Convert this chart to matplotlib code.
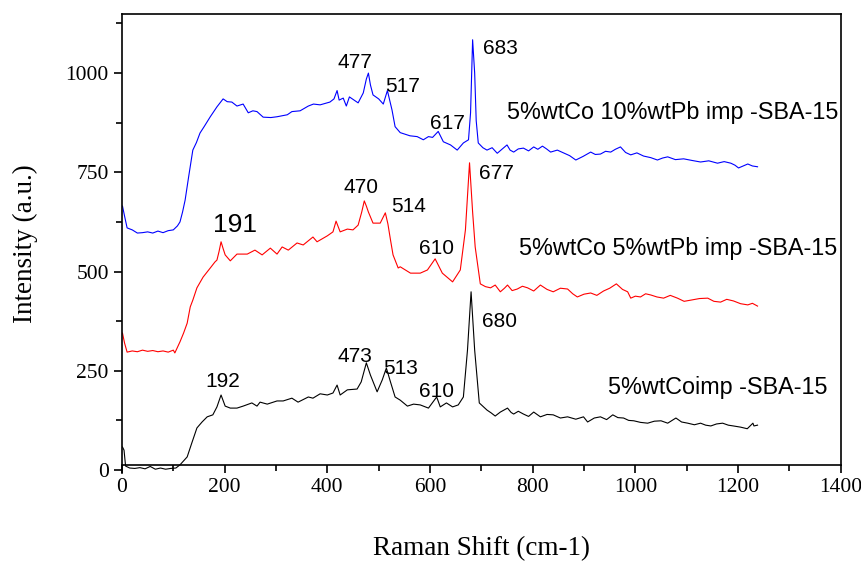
import matplotlib
matplotlib.use("Agg")
import matplotlib.pyplot as plt
from matplotlib.ticker import MultipleLocator

# Raman spectra, three impregnated SBA-15 samples (shift in cm-1, intensity a.u.)
shift_pb10 = [1, 5, 10, 20, 30, 40, 50, 60, 70, 80, 90, 100, 108, 113, 118, 123, 130, 138, 145,
              152, 160, 172, 185, 197, 205, 214, 224, 236, 246, 255, 263, 275, 290, 302, 322, 331,
              347, 363, 373, 386, 405, 413, 419, 423, 431, 437, 443, 460, 470, 476, 480, 484, 489,
              500, 509, 517, 526, 532, 542, 561, 575, 587, 597, 605, 616, 626, 640, 653, 665, 675,
              679, 683, 687, 690, 694, 703, 711, 721, 731, 740, 750, 756, 763, 772, 782, 792, 802,
              810, 819, 827, 835, 848, 860, 872, 884, 898, 913, 922, 932, 942, 952, 961, 971, 981,
              991, 1003, 1016, 1030, 1043, 1053, 1063, 1078, 1094, 1110, 1127, 1143, 1160, 1173,
              1186, 1194, 1201, 1210, 1219, 1228, 1238]
int_pb10 = [665, 640, 610, 605, 597, 598, 600, 597, 602, 598, 603, 605, 615, 625, 650, 680, 740,
            806, 825, 849, 865, 890, 915, 935, 928, 927, 917, 922, 900, 905, 903, 889, 888, 890,
            895, 903, 905, 917, 922, 920, 927, 935, 956, 932, 937, 917, 940, 925, 950, 985, 1000,
            970, 945, 935, 922, 956, 907, 865, 850, 842, 840, 832, 840, 838, 853, 827, 819, 806,
            824, 832, 900, 1084, 1000, 880, 824, 812, 806, 812, 798, 808, 819, 806, 801, 809, 811,
            804, 814, 808, 816, 809, 801, 806, 799, 792, 781, 790, 801, 795, 796, 803, 801, 808,
            814, 800, 794, 799, 791, 787, 781, 786, 789, 782, 784, 780, 776, 779, 773, 777, 773,
            768, 761, 766, 771, 766, 764]

shift_pb5 = [1, 5, 10, 20, 30, 40, 50, 60, 70, 80, 90, 100, 103, 113, 120, 127, 133, 138, 146,
             158, 172, 181, 185, 189, 193, 197, 201, 211, 224, 244, 259, 273, 289, 302, 312, 324,
             341, 353, 372, 380, 400, 411, 417, 425, 439, 450, 460, 467, 472, 476, 480, 489, 503,
             513, 518, 523, 528, 538, 542, 562, 581, 595, 610, 624, 644, 659, 669, 677, 683, 688,
             698, 708, 718, 727, 737, 745, 751, 760, 770, 780, 790, 802, 815, 828, 840, 854, 868,
             878, 887, 900, 913, 925, 938, 950, 963, 975, 985, 991, 1000, 1010, 1020, 1030, 1042,
             1055, 1068, 1082, 1095, 1108, 1125, 1141, 1153, 1166, 1178, 1191, 1205, 1219, 1228,
             1238]
int_pb5 = [345, 320, 297, 300, 298, 302, 299, 301, 298, 300, 297, 302, 295, 323, 345, 370, 411,
           428, 459, 486, 509, 524, 529, 550, 575, 558, 542, 527, 544, 544, 554, 542, 559, 544,
           562, 554, 572, 567, 587, 575, 590, 600, 627, 600, 607, 605, 617, 650, 678, 665, 650,
           622, 622, 648, 620, 580, 542, 509, 512, 496, 496, 504, 532, 496, 474, 504, 605, 774,
           650, 562, 469, 462, 459, 466, 449, 458, 466, 452, 456, 463, 459, 451, 466, 455, 449,
           458, 456, 444, 436, 443, 446, 440, 451, 458, 469, 455, 449, 433, 438, 436, 444, 441,
           436, 433, 440, 433, 425, 428, 432, 433, 425, 423, 430, 426, 419, 416, 420, 413]

shift_co = [1, 4, 7, 15, 25, 35, 45, 55, 65, 75, 85, 95, 105, 113, 127, 136, 146, 156, 166, 177,
            185, 193, 201, 211, 224, 236, 253, 263, 269, 283, 302, 314, 331, 343, 363, 372, 386,
            400, 411, 419, 425, 439, 458, 466, 476, 484, 497, 507, 515, 523, 532, 542, 556, 568,
            581, 597, 613, 620, 632, 644, 655, 665, 673, 680, 687, 696, 711, 719, 727, 737, 751,
            758, 763, 772, 782, 792, 802, 815, 828, 840, 854, 868, 884, 899, 907, 920, 932, 944,
            956, 966, 977, 987, 997, 1010, 1024, 1037, 1050, 1063, 1079, 1090, 1102, 1115, 1127,
            1137, 1147, 1158, 1170, 1181, 1191, 1205, 1218, 1229, 1231, 1238]
int_co = [58, 50, 10, 5, 4, 6, 3, 9, 2, 5, 2, 4, 5, 13, 33, 68, 106, 121, 134, 139, 159, 189,
          161, 156, 156, 161, 169, 161, 171, 166, 174, 174, 181, 171, 184, 181, 192, 189, 194,
          214, 189, 202, 204, 222, 270, 239, 197, 227, 257, 222, 184, 176, 161, 166, 164, 156,
          184, 159, 169, 159, 164, 184, 302, 449, 302, 169, 151, 144, 136, 146, 156, 145, 141,
          148, 141, 135, 146, 134, 140, 139, 131, 134, 128, 134, 121, 131, 134, 127, 139, 132,
          131, 125, 124, 120, 118, 123, 124, 118, 131, 121, 118, 114, 118, 113, 111, 116, 118,
          113, 111, 108, 104, 118, 111, 113]

# peak labels: (text, x, y, size)
peaks = [("477", 454, 1026, 15), ("517", 546, 965, 15), ("683", 737, 1063, 15), ("617", 634, 872, 15),
         ("191", 220, 617, 19), ("470", 466, 711, 15), ("514", 558, 663, 15), ("610", 612, 559, 15),
         ("677", 729, 746, 15), ("192", 197, 224, 15), ("473", 454, 285, 15), ("513", 542, 255, 15),
         ("610", 612, 197, 15), ("680", 735, 375, 15)]

names = ["5%wtCo 10%wtPb imp -SBA-15", "5%wtCo 5%wtPb imp -SBA-15", "5%wtCoimp -SBA-15"]
name_pos = [(1396, 900), (1394, 559), (1375, 209)]

fig = plt.figure(figsize=(8.62, 5.65), dpi=100)
ax = fig.add_axes([0.1415, 0.1625, 0.8338, 0.8128])

ax.plot(shift_pb10, int_pb10, color="#0000ff", lw=0.8)
ax.plot(shift_pb5, int_pb5, color="#ff0000", lw=0.8)
ax.plot(shift_co, int_co, color="black", lw=0.8)

for txt, x, y, s in peaks:
    ax.text(x, y, txt, ha="center", va="center", fontsize=s, family="Liberation Sans")
for txt, (x, y) in zip(names, name_pos):
    ax.text(x, y, txt, ha="right", va="center", fontsize=16.8, family="Liberation Sans")

ax.set_xlim(0, 1400)
ax.set_ylim(-8, 1149)
ax.spines["bottom"].set_position(("data", 12.6))
ax.spines["right"].set_bounds(12.6, 1149)
for sp in ax.spines.values():
    sp.set_linewidth(1.2)

ax.xaxis.set_major_locator(MultipleLocator(200))
ax.xaxis.set_minor_locator(MultipleLocator(100))
ax.yaxis.set_major_locator(MultipleLocator(250))
ax.yaxis.set_minor_locator(MultipleLocator(125))
ax.tick_params(which="both", direction="out", width=1.2, top=False, right=False)
ax.tick_params(which="major", length=6)
ax.tick_params(which="minor", length=4)
for lab in ax.get_xticklabels() + ax.get_yticklabels():
    lab.set_family("Liberation Serif")
    lab.set_fontsize(15.5)

ax.set_xlabel("Raman Shift (cm-1)", family="Liberation Serif", fontsize=19.5, va="center")
ax.set_ylabel("Intensity (a.u.)", family="Liberation Serif", fontsize=19.5, va="center")
ax.xaxis.set_label_coords(0.5, -0.165)
ax.yaxis.set_label_coords(-0.135, 0.5)

fig.savefig("out.png", dpi=100)
